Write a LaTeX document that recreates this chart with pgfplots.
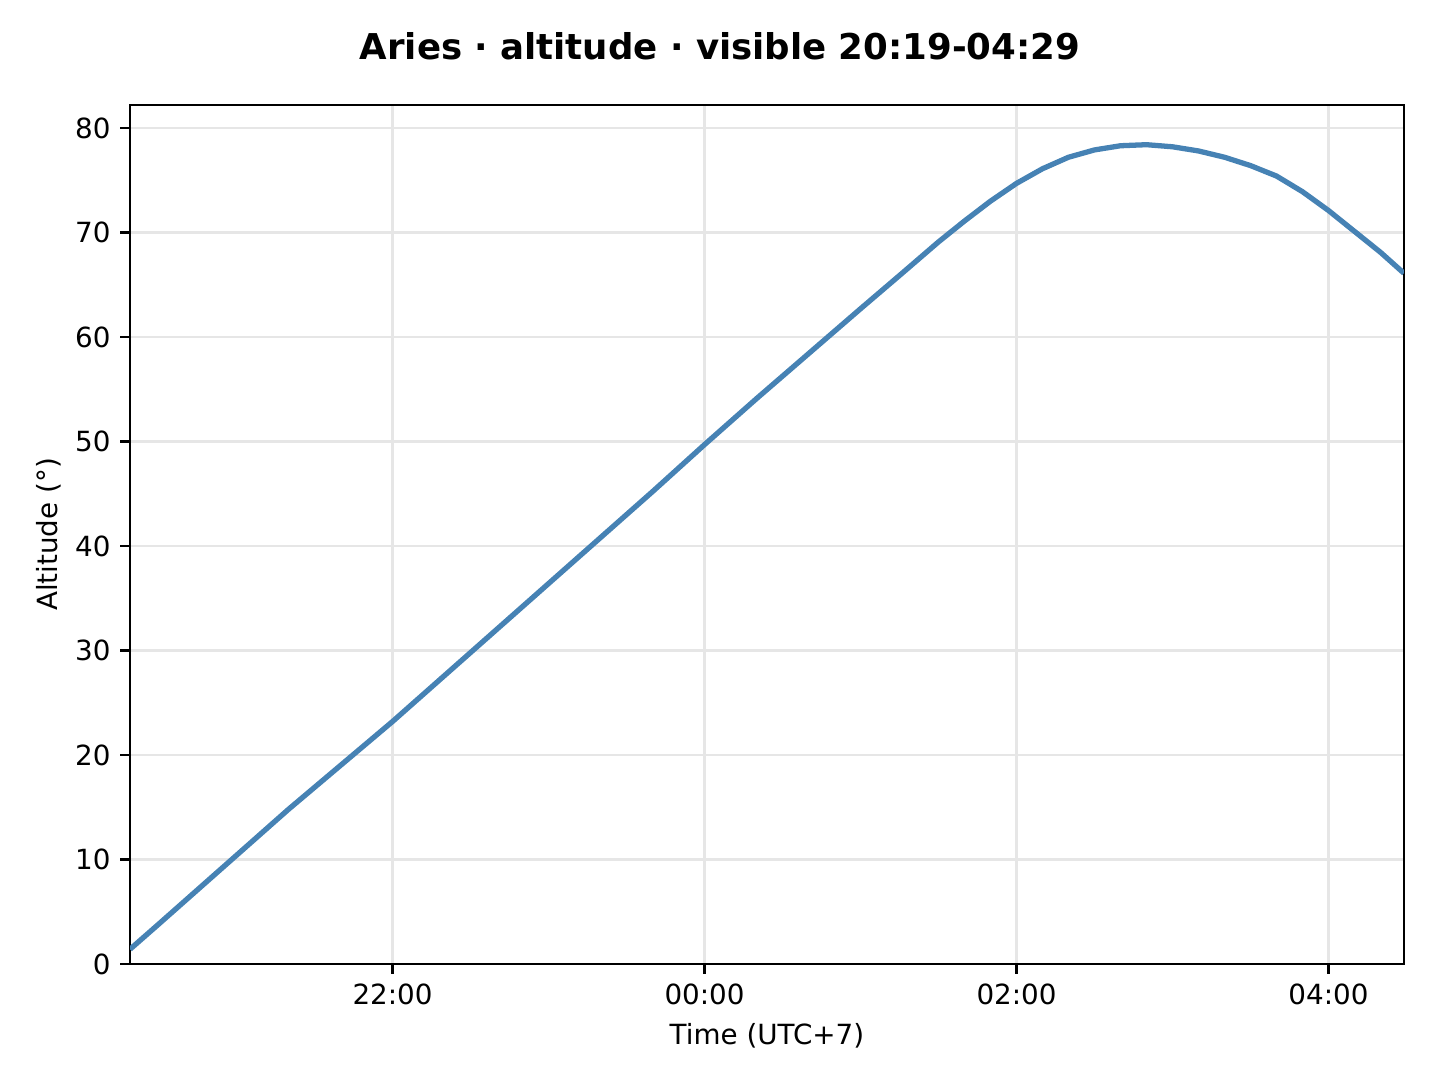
\documentclass[border=0pt]{standalone}
\usepackage{pgfplots}
\pgfplotsset{compat=1.18}
\usepackage{fontspec}
\setmainfont{DejaVu Sans}
\definecolor{steel}{HTML}{4682B4}
\definecolor{gridc}{HTML}{E6E6E6}
\begin{document}
\begin{tikzpicture}
\begin{axis}[
  scale only axis,
  width=458.6pt, height=309.2pt,
  xmin=-3.6833, xmax=4.4833,
  ymin=0, ymax=82.2,
  xtick={-2,0,2,4},
  xticklabels={22:00,00:00,02:00,04:00},
  ytick={0,10,...,80},
  tick pos=left,
  tick align=outside,
  major tick length=3.5pt,
  every tick/.style={black, line width=0.8pt},
  axis line style={line width=0.8pt},
  grid=major,
  major grid style={gridc, line width=0.8pt},
  /pgf/number format/assume math mode=true,
  tick label style={font=\fontsize{10}{12}\selectfont},
  label style={font=\fontsize{10}{12}\selectfont},
  xlabel={Time (UTC+7)},
  ylabel={Altitude (°)},
  ylabel shift=-2pt,
  title={Aries · altitude · visible 20:19-04:29},
  title style={at={(0.4631,1)}, font=\bfseries\fontsize{12.8}{15}\selectfont, yshift=6.5pt},
]
\addplot[steel, line width=1.9pt, line join=round] coordinates {
(-3.6833,1.4) (-3.5,3.8) (-3.3333,6.0) (-3.0,10.4) (-2.6667,14.8)
(-2.3333,19.0) (-2.0,23.2) (-1.6667,27.6) (-1.3333,32.0) (-1.0,36.4)
(-0.6667,40.8) (-0.3333,45.2) (0.0,49.7) (0.3333,54.1) (0.6667,58.4)
(1.0,62.7) (1.2667,66.1) (1.5,69.1) (1.6667,71.1) (1.8333,73.0)
(2.0,74.7) (2.1667,76.1) (2.3333,77.2) (2.5,77.9) (2.6667,78.3)
(2.8333,78.4) (3.0,78.2) (3.1667,77.8) (3.3333,77.2) (3.5,76.4)
(3.6667,75.4) (3.8333,73.9) (4.0,72.1) (4.1667,70.1) (4.3333,68.1)
(4.4833,66.1)
};
\end{axis}
\pgfresetboundingbox
\path[use as bounding box] ([shift={(-46.8pt,-41.8pt)}]current axis.south west) rectangle ([shift={(13pt,37.8pt)}]current axis.north east);
\end{tikzpicture}
\end{document}
